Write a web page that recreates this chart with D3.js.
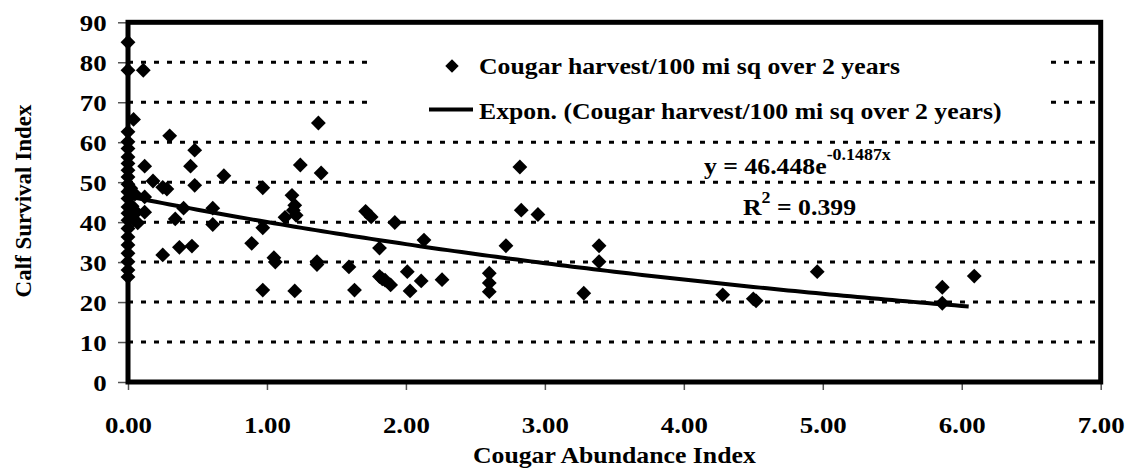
<!DOCTYPE html>
<html>
<head>
<meta charset="utf-8">
<script src="https://cdn.jsdelivr.net/npm/d3@7"></script>
<style>
  body { margin: 0; background: #fff; }
  text { font-family: "Liberation Serif", "Times New Roman", serif; font-weight: bold; fill: #000; }
</style>
</head>
<body>
<svg width="1126" height="474"></svg>
<script>
// cougar abundance (x) vs calf survival (y)
const abundance = [
    0, 0, 0, 0, 0, 0, 0, 0, 0, 0, 0, 0, 0, 0, 0, 0, 0, 0, 0, 0, 0, 0,
    0.04, 0.05, 0.06, 0.04, 0.07, 0.02, 0.03,
    0.11, 0.30, 0.48, 0.12, 0.45, 0.18, 0.69, 0.25, 0.28, 0.48, 0.97,
    0.12, 0.40, 0.61, 0.12, 0.34, 0.61, 0.97, 0.89, 0.37, 0.46, 0.25,
    1.05, 1.06, 0.97, 1.20, 1.24, 1.37, 1.39, 1.18, 1.20, 1.21, 1.13, 1.19,
    1.71, 1.75, 1.92, 1.81, 2.13, 2.82, 2.83, 2.95, 2.72, 1.36, 1.36,
    1.59, 1.63, 1.81, 1.85, 1.89, 1.83, 2.01, 2.03, 2.11, 2.26,
    2.60, 2.60, 2.60, 3.28, 3.39, 3.39, 4.28, 4.50, 4.52, 4.96,
    5.86, 5.86, 6.09
];
const survival = [
    85, 78, 62.6, 60.1, 58.4, 56.3, 54.7, 53, 51.3, 49.5, 47.6, 45.9, 43.8, 42.2, 40.5, 38.4, 36.3, 34.3, 32.2, 30.1, 28, 26.3,
    65.7, 47, 42.5, 40.6, 39.8, 48.5, 44,
    78, 61.6, 58, 54, 54, 50.3, 51.6, 48.7, 48.3, 49.2, 48.6,
    46.3, 43.5, 43.5, 42.5, 40.8, 39.4, 38.6, 34.7, 33.7, 34, 31.8,
    31.1, 30, 23, 22.8, 54.3, 64.8, 52.3, 46.7, 44.2, 41.7, 41.2, 43,
    42.7, 41.3, 39.9, 33.5, 35.5, 53.8, 43, 41.9, 34.1, 30.1, 29.4,
    28.8, 23, 26.4, 25.5, 24.3, 25.8, 27.6, 22.8, 25.3, 25.6,
    27.2, 24.8, 22.6, 22.2, 34.1, 30.1, 21.8, 20.8, 20.3, 27.6,
    23.7, 19.7, 26.5
];

const xTicks = [0, 1, 2, 3, 4, 5, 6, 7];
const yTicks = [0, 10, 20, 30, 40, 50, 60, 70, 80, 90];

const seriesName = "Cougar harvest/100 mi sq over 2 years";
const trendName = "Expon. (Cougar harvest/100 mi sq over 2 years)";
const fitA = 46.448, fitB = -0.1487, fitR2 = "0.399";

const stretch = 1.12;
const svg = d3.select("svg");

const x = d3.scaleLinear().domain([0, 7]).range([128, 1100.7]);
const y = d3.scaleLinear().domain([0, 90]).range([382, 22.3]);

// dotted gridlines
svg.append("g")
    .selectAll("line")
    .data(yTicks.filter(v => v > 0 && v < 90))
    .enter()
    .append("line")
    .attr("x1", x(0))
    .attr("x2", x(7))
    .attr("y1", d => y(d))
    .attr("y2", d => y(d))
    .attr("stroke", "#000")
    .attr("stroke-width", 3)
    .attr("stroke-dasharray", "5,8");

// axes (ticks + labels only, frame drawn separately)
const xAxis = svg.append("g")
    .attr("transform", `translate(0,${y(0)})`)
    .call(d3.axisBottom(x).tickValues(xTicks).tickFormat(d3.format(".2f")).tickSize(8).tickPadding(26));

const yAxis = svg.append("g")
    .attr("transform", `translate(${x(0)},0)`)
    .call(d3.axisLeft(y).tickValues(yTicks).tickFormat(d3.format("d")).tickSize(10).tickPadding(9));

[xAxis, yAxis].forEach(g => {
    g.select(".domain").remove();
    g.selectAll(".tick line").attr("stroke", "#555").attr("stroke-width", 1.5);
    g.selectAll(".tick text")
        .attr("font-size", 24)
        .attr("font-family", "Liberation Serif, Times New Roman, serif")
        .attr("font-weight", "bold")
        .attr("fill", "#000")
        .attr("transform", `scale(${stretch},1)`);
});
yAxis.selectAll(".tick text").attr("dy", "0.36em");

// legend box blanks the gridlines behind it
svg.append("rect")
    .attr("x", 375).attr("y", 40)
    .attr("width", 675).attr("height", 86)
    .attr("fill", "#fff");

// trend line
const fitX = d3.range(0, d3.max(abundance) + 0.001, 0.05);
const line = d3.line()
    .x(d => x(d))
    .y(d => y(fitA * Math.exp(fitB * d)));

// points
const diamond = d3.symbol().type(d3.symbolSquare).size(110);
svg.append("g")
    .selectAll("path")
    .data(abundance.map((v, i) => [v, survival[i]]))
    .enter()
    .append("path")
    .attr("d", diamond)
    .attr("transform", d => `translate(${x(d[0])},${y(d[1])}) rotate(45)`)
    .attr("fill", "#000");

svg.append("path")
    .datum(fitX)
    .attr("d", line)
    .attr("fill", "none")
    .attr("stroke", "#000")
    .attr("stroke-width", 4);

// frame
svg.append("rect")
    .attr("x", x(0)).attr("y", y(90))
    .attr("width", x(7) - x(0)).attr("height", y(0) - y(90))
    .attr("fill", "none")
    .attr("stroke", "#000")
    .attr("stroke-width", 5);

function label(px, py, size, anchor) {
    return svg.append("text")
        .attr("transform", `translate(${px},${py}) scale(${stretch},1)`)
        .attr("font-size", size)
        .attr("text-anchor", anchor);
}

// legend
svg.append("path")
    .attr("d", d3.symbol().type(d3.symbolSquare).size(90))
    .attr("transform", "translate(452,66) rotate(45)")
    .attr("fill", "#000");
label(479, 74, 23, "start").text(seriesName);
svg.append("line")
    .attr("x1", 429).attr("x2", 473)
    .attr("y1", 109.5).attr("y2", 109.5)
    .attr("stroke", "#000").attr("stroke-width", 4);
label(479, 118.5, 23, "start").text(trendName);

// equation + R squared
const eq = label(704, 174, 23, "start");
eq.append("tspan").text(`y = ${fitA}e`);
eq.append("tspan").attr("font-size", 16).attr("dy", -14).text(`${fitB}x`);

const r2 = label(743, 215, 23, "start");
r2.append("tspan").text("R");
r2.append("tspan").attr("font-size", 16).attr("dy", -12).text("2");
r2.append("tspan").attr("dy", 12).text(` = ${fitR2}`);

// axis titles
label((x(0) + x(7)) / 2, 463, 23, "middle").text("Cougar Abundance Index");
svg.append("text")
    .attr("transform", "translate(31,201) rotate(-90)")
    .attr("font-size", 23)
    .attr("text-anchor", "middle")
    .text("Calf Survival Index");
</script>
</body>
</html>
